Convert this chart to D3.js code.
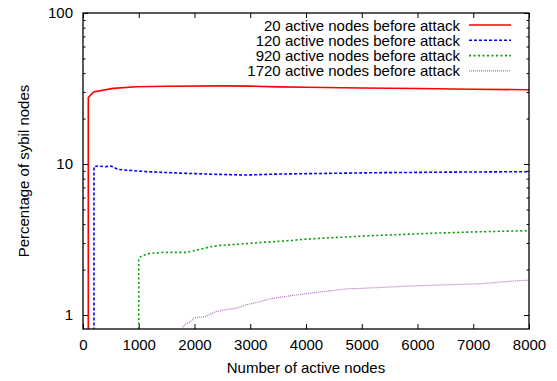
<!DOCTYPE html>
<html>
<head>
<meta charset="utf-8">
<script src="https://cdn.jsdelivr.net/npm/d3@7"></script>
<style>
body { margin: 0; background: #fff; }
svg { display: block; font-family: "Liberation Sans", Arial, sans-serif; }
</style>
</head>
<body>
<div id="chart"></div>
<script>
var width = 557,
    height = 381;
var margin = {top: 13, right: 28, bottom: 52, left: 83};

// values (x = active nodes, y = % sybil)
var xTicks = [0, 1000, 2000, 3000, 4000, 5000, 6000, 7000, 8000];
var yTicks = [1, 10, 100];
var yMinor = [2, 3, 4, 5, 6, 7, 8, 9, 20, 30, 40, 50, 60, 70, 80, 90];

var xRed = [95, 95, 190, 540, 960, 1500, 2500, 3000, 3500, 4000, 5000, 6000, 7000, 8000];
var yRed = [0.5, 27.5, 30, 31.7, 32.5, 32.7, 32.9, 32.8, 32.4, 32.2, 31.9, 31.6, 31.3, 31.0];

var xBlue = [197, 197, 260, 400, 500, 630, 1140, 1740, 2340, 2900, 3500, 4500, 5300, 6500, 8000];
var yBlue = [0.5, 9.6, 9.7, 9.6, 9.7, 9.2, 8.9, 8.7, 8.55, 8.45, 8.58, 8.68, 8.76, 8.83, 8.9];

var xGreen = [1000, 1000, 1053, 1200, 1440, 1860, 2040, 2280, 2460, 2820, 3230, 3650, 4000, 5000, 6000, 7000, 8000];
var yGreen = [0.5, 2.37, 2.46, 2.56, 2.6, 2.6, 2.69, 2.83, 2.89, 2.95, 3.03, 3.1, 3.18, 3.33, 3.45, 3.55, 3.62];

var xPurple = [1790, 1830, 1920, 2000, 2190, 2370, 2580, 2760, 2910, 3120, 3350, 3710, 4130, 4730, 4970, 5930, 7120, 7720, 8000];
var yPurple = [0.83, 0.87, 0.9, 0.96, 0.975, 1.05, 1.09, 1.11, 1.165, 1.21, 1.28, 1.34, 1.405, 1.49, 1.5, 1.56, 1.61, 1.68, 1.7];

var seriesNames = [
    "20 active nodes before attack",
    "120 active nodes before attack",
    "920 active nodes before attack",
    "1720 active nodes before attack"
];

var series = [
    {name: seriesNames[0], xs: xRed, ys: yRed, color: "#ff0000", w: 1.6, dash: null},
    {name: seriesNames[1], xs: xBlue, ys: yBlue, color: "#0000ff", w: 1.6, dash: "3,2"},
    {name: seriesNames[2], xs: xGreen, ys: yGreen, color: "#00a000", w: 1.6, dash: "2,2.5"},
    {name: seriesNames[3], xs: xPurple, ys: yPurple, color: "#b070c0", w: 1.2, dash: "1,1"}
];

var x = d3.scaleLinear().domain([0, 8000]).range([margin.left, width - margin.right]);
var y = d3.scaleLog().domain([0.808, 100]).range([height - margin.bottom, margin.top]);

var svg = d3.select("#chart").append("svg")
    .attr("width", width)
    .attr("height", height);

svg.append("defs").append("clipPath").attr("id", "plot")
  .append("rect")
    .attr("x", margin.left)
    .attr("y", margin.top)
    .attr("width", width - margin.left - margin.right)
    .attr("height", height - margin.top - margin.bottom);

var bottom = height - margin.bottom,
    right = width - margin.right;

function styleAxis(g) {
  g.select(".domain").remove();
  g.selectAll(".tick line").attr("stroke", "#000").attr("stroke-width", 1);
  g.selectAll("text").attr("fill", "#000").style("font-size", "15px");
}

// axes, ticks point inward like gnuplot
svg.append("g").attr("transform", "translate(0," + bottom + ")")
    .call(d3.axisBottom(x).tickValues(xTicks).tickSize(-5).tickPadding(10).tickFormat(d3.format("d")))
    .call(styleAxis);
svg.append("g").attr("transform", "translate(0," + margin.top + ")")
    .call(d3.axisTop(x).tickValues(xTicks).tickSize(-5).tickFormat(""))
    .call(styleAxis);
svg.append("g").attr("transform", "translate(" + margin.left + ",0)")
    .call(d3.axisLeft(y).tickValues(yTicks).tickSize(-5).tickPadding(10).tickFormat(d3.format("d")))
    .call(styleAxis);
svg.append("g").attr("transform", "translate(" + margin.left + ",0)")
    .call(d3.axisLeft(y).tickValues(yMinor).tickSize(-2.5).tickFormat(""))
    .call(styleAxis);
svg.append("g").attr("transform", "translate(" + right + ",0)")
    .call(d3.axisRight(y).tickValues(yTicks).tickSize(-5).tickFormat(""))
    .call(styleAxis);
svg.append("g").attr("transform", "translate(" + right + ",0)")
    .call(d3.axisRight(y).tickValues(yMinor).tickSize(-2.5).tickFormat(""))
    .call(styleAxis);

var line = d3.line()
    .x(function(d) { return x(d[0]); })
    .y(function(d) { return y(d[1]); });

svg.append("g").attr("clip-path", "url(#plot)")
    .selectAll("path")
    .data(series)
  .enter().append("path")
    .attr("fill", "none")
    .attr("stroke", function(d) { return d.color; })
    .attr("stroke-width", function(d) { return d.w; })
    .attr("stroke-dasharray", function(d) { return d.dash; })
    .attr("d", function(d) { return line(d3.zip(d.xs, d.ys)); });

// frame
svg.append("rect")
    .attr("x", margin.left)
    .attr("y", margin.top)
    .attr("width", right - margin.left)
    .attr("height", bottom - margin.top)
    .attr("fill", "none")
    .attr("stroke", "#000")
    .attr("stroke-width", 1.3);

// legend
var legend = svg.append("g").selectAll("g")
    .data(series)
  .enter().append("g")
    .attr("transform", function(d, i) { return "translate(0," + (25 + i * 15.3) + ")"; });

legend.append("text")
    .attr("x", 460)
    .attr("y", 5.5)
    .attr("text-anchor", "end")
    .style("font-size", "15px")
    .text(function(d) { return d.name; });

legend.append("line")
    .attr("x1", 469)
    .attr("x2", 511)
    .attr("stroke", function(d) { return d.color; })
    .attr("stroke-width", function(d) { return d.w; })
    .attr("stroke-dasharray", function(d) { return d.dash; });

// axis titles
svg.append("text")
    .attr("x", (margin.left + right) / 2)
    .attr("y", 373)
    .attr("text-anchor", "middle")
    .style("font-size", "15px")
    .text("Number of active nodes");

svg.append("text")
    .attr("transform", "translate(29," + 171 + ") rotate(-90)")
    .attr("text-anchor", "middle")
    .style("font-size", "15px")
    .text("Percentage of sybil nodes");
</script>
</body>
</html>
